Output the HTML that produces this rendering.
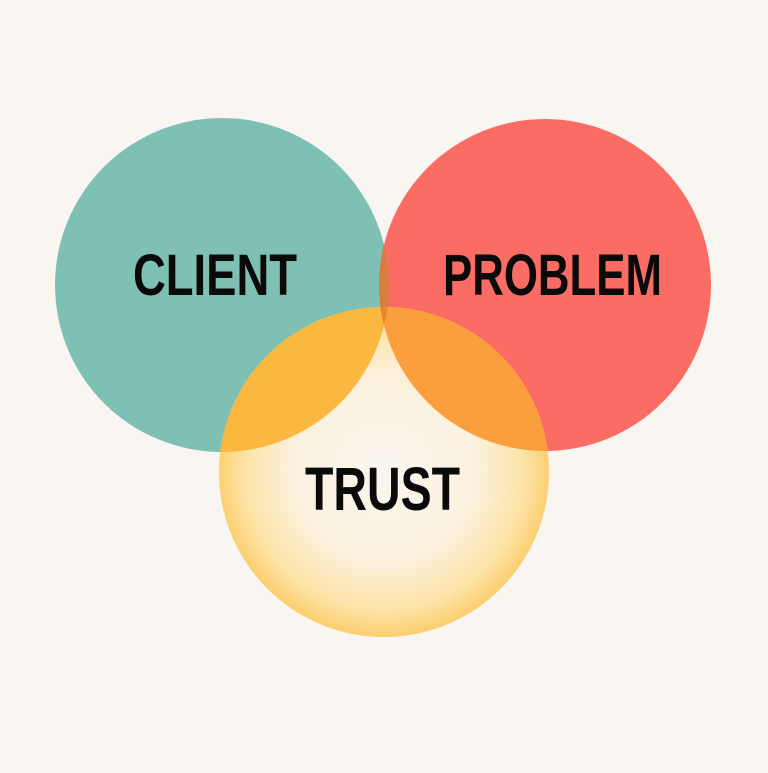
<!DOCTYPE html>
<html><head><meta charset="utf-8"><style>html,body{margin:0;padding:0;background:#f9f6f1}</style></head>
<body>
<svg width="768" height="768" viewBox="0 0 768 768" xmlns="http://www.w3.org/2000/svg">
<defs>
<radialGradient id="yg" cx="384" cy="470" r="166" gradientUnits="userSpaceOnUse">
<stop offset="0" stop-color="#f9f5ef"/>
<stop offset="0.55" stop-color="#fbf1de"/>
<stop offset="0.85" stop-color="#fde3a6"/>
<stop offset="1" stop-color="#fccf70"/>
</radialGradient>
<clipPath id="cT"><circle cx="222" cy="285" r="167"/></clipPath>
<clipPath id="cR"><circle cx="545" cy="285" r="166"/></clipPath>
<clipPath id="cY"><circle cx="384" cy="472" r="165"/></clipPath>
</defs>
<rect width="768" height="768" fill="#f9f6f1"/>
<circle cx="222" cy="285" r="167" fill="#7fc0b4"/>
<circle cx="545" cy="285" r="166" fill="#fb6d64"/>
<g clip-path="url(#cT)"><circle cx="545" cy="285" r="166" fill="#d97d3e"/></g>
<circle cx="384" cy="472" r="165" fill="url(#yg)"/>
<g clip-path="url(#cY)">
<circle cx="222" cy="285" r="167" fill="#fbb840"/>
<circle cx="545" cy="285" r="166" fill="#fb9e3e"/>
<g clip-path="url(#cT)"><circle cx="545" cy="285" r="166" fill="#e8852f"/></g>
</g>
<g font-family="Liberation Sans, sans-serif" font-weight="bold" fill="#0a0a0a" font-size="58">
<text x="133" y="295" textLength="164" lengthAdjust="spacingAndGlyphs">CLIENT</text>
<text x="443" y="295" textLength="219" lengthAdjust="spacingAndGlyphs">PROBLEM</text>
<text x="305" y="510" font-size="61" textLength="155" lengthAdjust="spacingAndGlyphs">TRUST</text>
</g>
</svg>
</body></html>
